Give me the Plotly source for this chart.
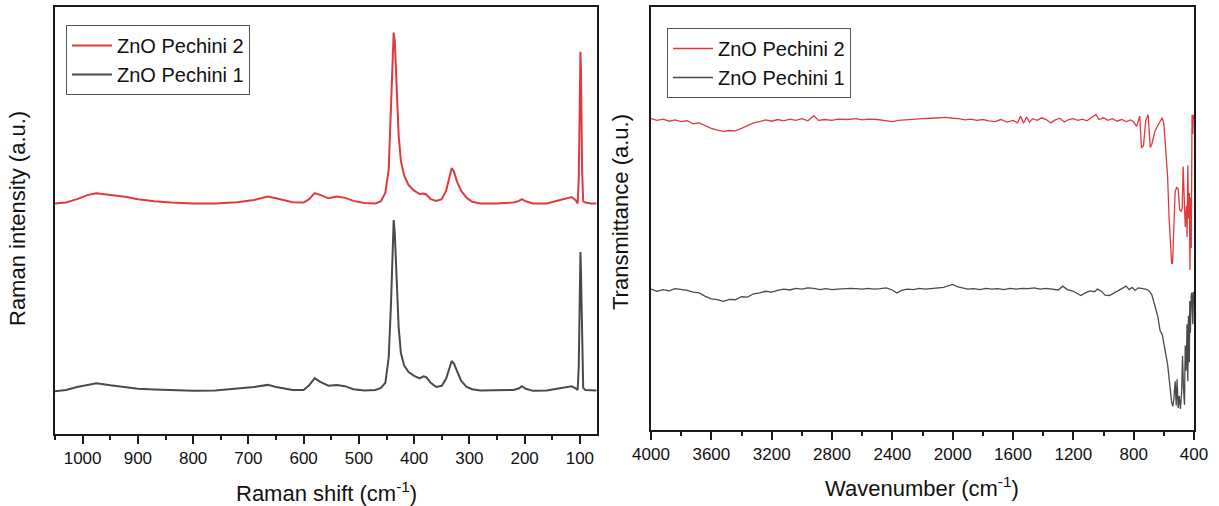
import plotly.graph_objects as go

# ---------------- Raman (left panel) ----------------
raman_shift = [1050, 1030, 1010, 990, 975, 950, 920, 900, 870, 840, 800, 760, 720, 690, 665, 650,
               620, 600, 590, 580, 570, 555, 540, 525, 510, 490, 470, 460, 452, 446, 442, 439,
               437, 435, 432, 428, 424, 418, 410, 400, 390, 383, 378, 370, 360, 350, 342, 336,
               332, 328, 322, 315, 305, 295, 280, 250, 220, 210, 205, 198, 185, 160, 140, 125,
               115, 108, 104, 102, 100, 99, 98, 96, 94, 90, 80, 70]
raman_p2 = [54.0, 54.2, 55.0, 56.0, 56.4, 56.0, 55.5, 55.0, 54.5, 54.2, 54.0, 54.0, 54.3, 54.8, 55.6, 55.2,
            54.3, 54.2, 55.0, 56.4, 56.0, 55.2, 55.6, 55.3, 54.6, 54.1, 54.0, 54.5, 56.5, 62.0, 75.0, 88.0,
            94.0, 92.0, 82.0, 70.0, 64.0, 60.5, 58.3, 57.0, 56.2, 56.3, 56.1, 55.0, 54.6, 55.0, 57.0, 60.5,
            62.3, 61.5, 59.0, 57.0, 55.3, 54.4, 54.0, 54.0, 54.2, 54.6, 55.0, 54.5, 54.0, 54.0, 54.6, 55.2,
            55.5, 54.8, 54.0, 60.0, 84.0, 89.5, 85.0, 62.0, 54.5, 54.2, 54.0, 54.0]
raman_p1 = [10.0, 10.3, 11.0, 11.6, 11.9, 11.4, 10.9, 10.6, 10.4, 10.2, 10.1, 10.2, 10.6, 11.0, 11.5, 11.0,
            10.3, 10.3, 11.4, 13.1, 12.2, 11.3, 11.5, 11.2, 10.5, 10.2, 10.3, 10.8, 12.0, 18.0, 30.0, 44.0,
            50.1, 47.0, 37.0, 25.0, 19.0, 16.0, 14.5, 13.6, 13.0, 13.5, 13.3, 12.0, 11.0, 11.3, 13.0, 15.5,
            17.1, 16.5, 14.5, 12.5, 11.0, 10.5, 10.2, 10.2, 10.3, 10.7, 11.2, 10.6, 10.1, 10.2, 10.6, 11.0,
            11.2, 10.7, 10.3, 16.0, 38.0, 42.6, 38.0, 18.0, 10.8, 10.3, 10.2, 10.2]

# ---------------- FTIR (right panel) ----------------
wn_p2 = [4000, 3960, 3920, 3880, 3840, 3800, 3760, 3720, 3680, 3640, 3600, 3560, 3520, 3480, 3440, 3400,
         3360, 3320, 3280, 3240, 3200, 3160, 3120, 3080, 3040, 3000, 2960, 2920, 2890, 2850, 2800, 2760,
         2700, 2640, 2600, 2560, 2500, 2440, 2400, 2360, 2300, 2240, 2200, 2140, 2080, 2040, 2000, 1960,
         1920, 1880, 1840, 1800, 1760, 1720, 1680, 1640, 1600, 1570, 1550, 1530, 1510, 1490, 1470, 1440,
         1410, 1380, 1350, 1320, 1290, 1260, 1230, 1200, 1170, 1140, 1110, 1080, 1050, 1030, 1000, 970,
         940, 910, 880, 850, 820, 800, 780, 760, 748, 735, 720, 704, 690, 680, 660, 640,
         620, 611, 600, 590, 575, 565, 555, 548, 542, 535, 525, 515, 505, 495, 485, 478,
         472, 465, 458, 450, 446, 441, 436, 431, 427, 422, 418, 413, 408, 404, 400]
ir_p2 = [73.6, 73.2, 73.5, 73.0, 73.3, 72.9, 73.1, 72.4, 72.6, 71.9, 71.3, 70.9, 70.6, 70.8, 70.7, 71.3,
         71.9, 72.6, 72.9, 73.3, 73.0, 73.4, 73.1, 73.5, 73.2, 73.6, 73.1, 74.3, 73.2, 73.4, 73.2, 73.5,
         73.4, 73.6, 73.3, 73.5, 73.4, 73.1, 72.9, 73.2, 73.4, 73.5, 73.6, 73.7, 73.8, 73.9, 73.7, 73.6,
         73.3, 73.5, 73.2, 73.4, 73.1, 72.9, 73.4, 72.8, 73.2, 72.6, 74.2, 72.5, 74.0, 72.8, 73.6, 73.2,
         73.8, 73.4, 72.6, 73.3, 73.7, 72.8, 73.4, 73.6, 73.2, 73.5, 73.1, 73.9, 74.6, 73.4, 73.8, 73.2,
         73.6, 73.0, 73.4, 72.9, 73.3, 72.8, 71.8, 74.2, 66.7, 67.2, 73.2, 74.5, 66.8, 67.5, 70.5, 72.0,
         73.1, 73.8, 72.5, 67.5, 60.0, 50.0, 42.0, 39.3, 39.5, 47.0, 56.4, 57.3, 57.0, 52.0, 51.7, 52.5,
         62.3, 55.0, 48.0, 53.0, 45.6, 62.5, 50.0, 56.0, 37.8, 55.0, 43.0, 74.5, 70.0, 74.5, 73.5]

wn_p1 = [4000, 3960, 3920, 3880, 3840, 3800, 3760, 3720, 3680, 3640, 3600, 3560, 3520, 3480, 3440, 3400,
         3360, 3320, 3280, 3240, 3200, 3160, 3120, 3080, 3040, 3000, 2960, 2920, 2880, 2840, 2800, 2760,
         2720, 2680, 2640, 2600, 2560, 2520, 2480, 2440, 2400, 2370, 2340, 2300, 2260, 2220, 2180, 2140,
         2100, 2060, 2030, 2000, 1970, 1940, 1900, 1860, 1820, 1780, 1740, 1700, 1660, 1620, 1580, 1540,
         1500, 1460, 1420, 1380, 1340, 1300, 1270, 1240, 1200, 1170, 1150, 1120, 1090, 1060, 1040, 1010,
         990, 960, 930, 900, 870, 850, 830, 810, 790, 770, 740, 720, 700, 680, 660, 640,
         625, 610, 600, 590, 575, 560, 548, 540, 533, 525, 518, 512, 505, 498, 490, 482,
         476, 470, 463, 458, 452, 446, 441, 437, 431, 428, 424, 418, 413, 408, 403, 400]
ir_p1 = [33.3, 32.8, 33.2, 32.9, 33.4, 33.2, 33.0, 32.6, 32.4, 31.6, 31.0, 30.8, 30.4, 30.9, 30.8, 31.5,
         31.4, 32.2, 32.4, 32.8, 32.6, 33.0, 33.3, 33.1, 33.5, 33.3, 33.6, 33.5, 33.2, 33.4, 33.2, 33.3,
         33.4, 33.5, 33.4, 33.3, 33.5, 33.3, 33.4, 33.6, 33.1, 32.4, 33.0, 33.3, 33.2, 33.5, 33.3, 33.4,
         33.6, 33.7, 34.1, 34.4, 33.9, 33.6, 33.3, 33.4, 33.2, 33.5, 33.3, 33.4, 33.2, 33.5, 33.3, 33.5,
         33.4, 33.6, 33.3, 33.5, 33.3, 33.1, 34.0, 33.2, 32.8, 32.2, 31.8, 32.4, 32.9, 32.7, 33.3, 32.7,
         31.9, 31.8, 32.4, 32.8, 33.4, 34.0, 33.2, 33.7, 33.0, 33.6, 33.4, 33.3, 33.0, 32.0, 29.5, 26.8,
         23.5, 22.5, 20.5, 18.5, 15.5, 10.5, 6.5, 5.6, 7.5, 11.5, 5.8, 12.0, 5.2, 8.0, 5.0, 9.0,
         17.5, 10.0, 6.0, 20.0, 14.0, 25.0, 11.5, 27.0, 16.0, 30.5, 23.0, 32.0, 32.5, 25.0, 32.7, 31.5]

name_p2 = "ZnO Pechini 2"
name_p1 = "ZnO Pechini 1"
red = "#E0393E"
grey = "#4A4A4A"

raman_ticks = [1000, 900, 800, 700, 600, 500, 400, 300, 200, 100]
ir_ticks = [4000, 3600, 3200, 2800, 2400, 2000, 1600, 1200, 800, 400]

FONT = "Arial, Liberation Sans, sans-serif"
W, H = 1219, 506

fig = go.Figure()
fig.add_trace(go.Scatter(x=raman_shift, y=raman_p2, mode="lines", name=name_p2,
                         line=dict(color=red, width=2), xaxis="x", yaxis="y", legend="legend"))
fig.add_trace(go.Scatter(x=raman_shift, y=raman_p1, mode="lines", name=name_p1,
                         line=dict(color=grey, width=2), xaxis="x", yaxis="y", legend="legend"))
fig.add_trace(go.Scatter(x=wn_p2, y=ir_p2, mode="lines", name=name_p2,
                         line=dict(color=red, width=1.3), xaxis="x2", yaxis="y2", legend="legend2"))
fig.add_trace(go.Scatter(x=wn_p1, y=ir_p1, mode="lines", name=name_p1,
                         line=dict(color=grey, width=1.3), xaxis="x2", yaxis="y2", legend="legend2"))

def px_x(p):
    return p / W

def px_y(p):
    return 1 - p / H

axis_common = dict(showline=True, linecolor="#1a1a1a", linewidth=1.6, mirror=True,
                   showgrid=False, zeroline=False, automargin=False)

def title_ann(text, x, y, angle=0):
    return dict(text=text, x=px_x(x), y=px_y(y), xref="paper", yref="paper",
                xanchor="center", yanchor="middle", showarrow=False, textangle=angle,
                font=dict(size=22, family=FONT, color="#111"))

fig.update_layout(
    width=W, height=H,
    margin=dict(l=0, r=0, t=0, b=0, autoexpand=False),
    paper_bgcolor="white", plot_bgcolor="white",
    font=dict(family=FONT, color="#111"),
    xaxis=dict(domain=[px_x(55), px_x(597)], range=[1050, 69], tickvals=raman_ticks,
               ticks="outside", ticklen=8, tickwidth=1.5, tickcolor="#1a1a1a",
               tickfont=dict(size=17, family=FONT, color="#111"),
               minor=dict(dtick=50, tick0=0, ticks="outside", ticklen=4, tickwidth=1.5, tickcolor="#1a1a1a"),
               anchor="y", **axis_common),
    yaxis=dict(domain=[px_y(434), px_y(7)], range=[0, 100], showticklabels=False, ticks="",
               anchor="x", **axis_common),
    xaxis2=dict(domain=[px_x(651), px_x(1194)], range=[4000, 400], tickvals=ir_ticks,
                ticks="outside", ticklen=8, tickwidth=1.5, tickcolor="#1a1a1a",
                tickfont=dict(size=17, family=FONT, color="#111"),
                minor=dict(dtick=200, tick0=0, ticks="outside", ticklen=4, tickwidth=1.5, tickcolor="#1a1a1a"),
                anchor="y2", **axis_common),
    yaxis2=dict(domain=[px_y(430), px_y(7)], range=[0, 100], showticklabels=False, ticks="",
                anchor="x2", **axis_common),
    legend=dict(x=px_x(66), y=px_y(25), xanchor="left", yanchor="top",
                bordercolor="#555", borderwidth=1, bgcolor="white",
                font=dict(size=20, family=FONT, color="#111"), tracegroupgap=0, itemwidth=40),
    legend2=dict(x=px_x(667), y=px_y(28), xanchor="left", yanchor="top",
                 bordercolor="#555", borderwidth=1, bgcolor="white",
                 font=dict(size=20, family=FONT, color="#111"), tracegroupgap=0, itemwidth=40),
    annotations=[
        title_ann("Raman shift (cm<sup>-1</sup>)", 326, 492),
        title_ann("Wavenumber (cm<sup>-1</sup>)", 922, 487),
        title_ann("Raman intensity (a.u.)", 18, 219, -90),
        title_ann("Transmittance (a.u.)", 620, 212, -90),
    ],
)

fig.write_html("out.html")
